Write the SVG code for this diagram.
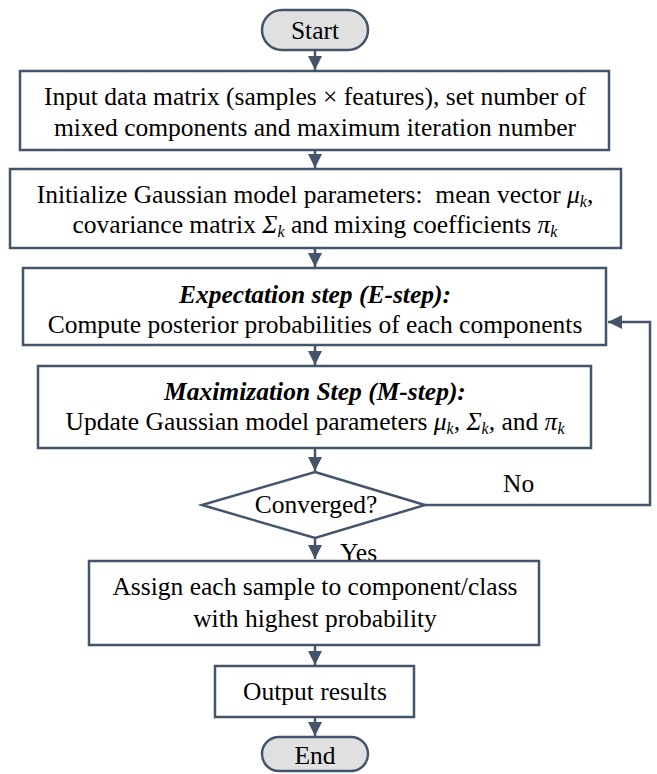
<svg xmlns="http://www.w3.org/2000/svg" width="657" height="774" viewBox="0 0 657 774">
<style>
.box{fill:#fff;stroke:#44546A;stroke-width:2.5}
.term{fill:#E0E0E0;stroke:#44546A;stroke-width:2.5}
text{font-family:'Liberation Serif','Times New Roman',serif;font-size:25.5px;fill:#000}
.t{text-anchor:middle}
.c{fill:none;stroke:#44546A;stroke-width:2.5}
.s{font-size:16px;font-style:italic}
.i{font-style:italic}
.bi{font-weight:bold;font-style:italic}
</style>
<defs>
<marker id="ah" markerUnits="userSpaceOnUse" markerWidth="14" markerHeight="14" viewBox="0 0 14 14" refX="14" refY="7" orient="auto">
<path d="M0,0 L14,7 L0,14 z" fill="#44546A"/>
</marker>
</defs>
<rect width="657" height="774" fill="#fff"/>
<g id="connectors">
<line class="c" x1="315" y1="50" x2="315" y2="70" marker-end="url(#ah)"/>
<line class="c" x1="315" y1="150" x2="315" y2="168" marker-end="url(#ah)"/>
<line class="c" x1="315" y1="248" x2="315" y2="267" marker-end="url(#ah)"/>
<line class="c" x1="315" y1="345" x2="315" y2="365" marker-end="url(#ah)"/>
<line class="c" x1="315" y1="448" x2="315" y2="471" marker-end="url(#ah)"/>
<line class="c" x1="315" y1="538" x2="315" y2="559" marker-end="url(#ah)"/>
<line class="c" x1="315" y1="645" x2="315" y2="665" marker-end="url(#ah)"/>
<line class="c" x1="315" y1="717" x2="315" y2="736" marker-end="url(#ah)"/>
<polyline class="c" points="425,505 650,505 650,322 608,322" marker-end="url(#ah)"/>
<text x="503" y="492">No</text>
<text x="340" y="561">Yes</text>
</g>
<g id="start">
<rect class="term" x="262" y="10" width="106" height="40" rx="20"/>
<text class="t" x="315" y="39">Start</text>
</g>
<g id="input">
<rect class="box" x="20" y="71" width="589" height="79"/>
<text class="t" x="315" y="105">Input data matrix (samples × features), set number of</text>
<text class="t" x="315" y="136">mixed components and maximum iteration number</text>
</g>
<g id="init">
<rect class="box" x="10" y="169" width="611" height="79"/>
<text class="t" x="315" y="203" xml:space="preserve">Initialize Gaussian model parameters:  mean vector <tspan class="i">μ</tspan><tspan class="s" dy="4">k</tspan><tspan dy="-4">,</tspan></text>
<text class="t" x="315" y="233">covariance matrix <tspan class="i">Σ</tspan><tspan class="s" dy="4">k</tspan><tspan dy="-4"> and mixing coefficients </tspan><tspan class="i">π</tspan><tspan class="s" dy="4">k</tspan></text>
</g>
<g id="estep">
<rect class="box" x="23" y="268" width="583" height="77"/>
<text class="t bi" x="315" y="303">Expectation step (E-step):</text>
<text class="t" x="315" y="333">Compute posterior probabilities of each components</text>
</g>
<g id="mstep">
<rect class="box" x="38" y="366" width="553" height="82"/>
<text class="t bi" x="315" y="400">Maximization Step (M-step):</text>
<text class="t" x="315" y="430">Update Gaussian model parameters <tspan class="i">μ</tspan><tspan class="s" dy="4">k</tspan><tspan class="i" dy="-4">, Σ</tspan><tspan class="s" dy="4">k</tspan><tspan class="i" dy="-4">,</tspan> and <tspan class="i">π</tspan><tspan class="s" dy="4">k</tspan></text>
</g>
<g id="converged">
<polygon class="box" points="315,472 425,505 315,538 202,505"/>
<text class="t" x="316" y="513">Converged?</text>
</g>
<g id="assign">
<rect class="box" x="89" y="561" width="450" height="84"/>
<text class="t" x="315" y="595">Assign each sample to component/class</text>
<text class="t" x="315" y="627">with highest probability</text>
</g>
<g id="output">
<rect class="box" x="215" y="666" width="199" height="51"/>
<text class="t" x="315" y="700">Output results</text>
</g>
<g id="end">
<rect class="term" x="262" y="737" width="106" height="34" rx="17"/>
<text class="t" x="315" y="764">End</text>
</g>
</svg>
